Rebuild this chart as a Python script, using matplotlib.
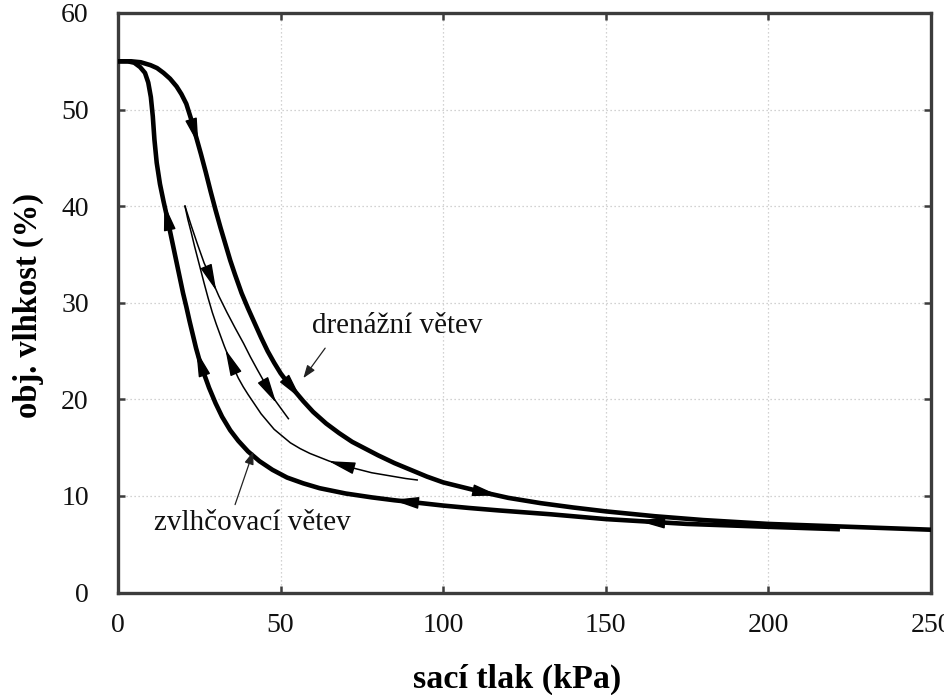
import numpy as np
import matplotlib
matplotlib.use('Agg')
import matplotlib.pyplot as plt

plt.rcParams['font.family'] = ['Liberation Serif', 'DejaVu Serif']

# ---------------- data ----------------
# main drying (drainage) branch
drain_x = [0, 4, 7, 10, 12, 14, 16, 18, 19.5, 21, 22.5, 24, 25.5, 27, 28.5, 30, 31.5,
           33, 34.5, 36, 38, 40, 42, 44, 46, 48, 50, 52, 54, 57, 60, 64, 68, 72, 76,
           80, 85, 90, 95, 100, 106, 112, 120, 130, 140, 150, 165, 180, 200, 225, 250]
drain_y = [55.0, 55.0, 54.9, 54.6, 54.3, 53.8, 53.2, 52.4, 51.6, 50.6, 49.0, 47.2,
           45.4, 43.5, 41.5, 39.6, 37.8, 36.1, 34.4, 32.9, 31.0, 29.4, 27.9, 26.4,
           25.0, 23.8, 22.7, 21.8, 21.0, 19.8, 18.7, 17.5, 16.5, 15.6, 14.9, 14.2,
           13.4, 12.7, 12.0, 11.4, 10.9, 10.4, 9.8, 9.25, 8.8, 8.4, 7.9, 7.5, 7.1,
           6.8, 6.5]

# main wetting branch
wet_x = [0, 3, 5, 6.8, 8.3, 9.3, 10.1, 10.7, 11.2, 11.9, 12.9, 14, 15, 16, 17, 18,
         19, 20, 21, 22, 23, 24, 25, 26.5, 28, 30, 32, 34.5, 37, 40, 43.5, 47.5, 52,
         57, 62, 70, 78, 85, 92, 100, 108, 117, 133, 150, 175, 200, 222]
wet_y = [55.0, 55.0, 54.85, 54.4, 53.8, 52.8, 51.3, 49.3, 46.9, 44.5, 42.3, 40.5,
         39.0, 37.4, 35.8, 34.2, 32.6, 31.0, 29.6, 28.1, 26.7, 25.3, 24.1, 22.6,
         21.2, 19.6, 18.2, 16.8, 15.7, 14.6, 13.6, 12.7, 11.9, 11.3, 10.8, 10.25,
         9.85, 9.55, 9.3, 9.0, 8.75, 8.5, 8.1, 7.6, 7.1, 6.8, 6.55]

# scanning drying curve
scan_drain_x = [20.6, 22.5, 24.5, 26.5, 28.8, 31, 33.5, 36, 38.6, 40.7, 42.8, 44.8,
                46.8, 48.3, 49.8, 51.1, 52.4]
scan_drain_y = [40.0, 38.0, 36.0, 34.1, 32.4, 30.7, 29.0, 27.4, 25.8, 24.4, 23.1,
                21.9, 20.7, 19.9, 19.2, 18.6, 18.0]

# scanning wetting curve
scan_wet_x = [20.6, 21.5, 22.5, 23.5, 24.5, 25.5, 26.5, 27.7, 29, 30.2, 31.5, 32.7,
              34, 35.5, 37, 38.5, 40, 42, 44, 46, 48, 50.5, 53, 56, 59, 62, 65, 68,
              71, 74.5, 78, 81.5, 85, 88.5, 92]
scan_wet_y = [40.0, 38.6, 37.3, 35.9, 34.6, 33.3, 32.0, 30.5, 29.0, 27.8, 26.6, 25.5,
              24.4, 23.3, 22.2, 21.3, 20.5, 19.5, 18.5, 17.7, 16.9, 16.2, 15.5, 14.9,
              14.4, 14.0, 13.6, 13.3, 13.0, 12.7, 12.4, 12.2, 12.0, 11.8, 11.65]

# arrow locations (x position along each curve)
drain_arrows = [23.7, 54.0, 113.5]
wet_arrows = [15.0, 25.2, 88.0, 163.7]
scan_drain_arrows = [28.8, 46.8]
scan_wet_arrows = [34.5, 68.3]

x_ticks = [0, 50, 100, 150, 200, 250]
y_ticks = [0, 10, 20, 30, 40, 50, 60]

label_drain = 'drenážní větev'
label_wet = 'zvlhčovací větev'
x_label = 'sací tlak (kPa)'
y_label = 'obj. vlhkost (%)'

# ---------------- figure ----------------
W, H = 944, 695
fig = plt.figure(figsize=(W / 100, H / 100), dpi=100)
L, R, T, B = 118, 931, 13, 592.5
ax = fig.add_axes([L / W, (H - B) / H, (R - L) / W, (B - T) / H])
ax.set_xlim(0, 250)
ax.set_ylim(0, 60)
ax.set_xticks(x_ticks)
ax.set_yticks(y_ticks)

frame_col = '#3c3c3c'
for s in ax.spines.values():
    s.set_color(frame_col)
    s.set_linewidth(2.4)
ax.tick_params(axis='both', direction='in', length=5, width=1.8, color=frame_col,
               top=True, right=True, labelsize=20, labelcolor='#111111')
ax.tick_params(axis='x', pad=15)
ax.tick_params(axis='y', pad=21)
ax.grid(True, color='#c4c4c4', linestyle=(0, (1, 2.2)), linewidth=0.9)
ax.set_axisbelow(True)

thick = 3.3
thin = 1.1
ax.plot(drain_x, drain_y, color='black', lw=thick, solid_joinstyle='round',
        solid_capstyle='butt', zorder=3)
ax.plot(wet_x, wet_y, color='black', lw=thick, solid_joinstyle='round',
        solid_capstyle='butt', zorder=3)
ax.plot(scan_drain_x, scan_drain_y, color='black', lw=thin, zorder=3)
ax.plot(scan_wet_x, scan_wet_y, color='black', lw=thin, zorder=3)


def place_arrow(xs, ys, xc, forward, length_px=24):
    xs = np.asarray(xs, float)
    ys = np.asarray(ys, float)
    P = ax.transData.transform(np.column_stack([xs, ys]))
    i = int(np.searchsorted(xs, xc))
    i = min(max(i, 1), len(xs) - 1)
    t = (xc - xs[i - 1]) / (xs[i] - xs[i - 1])
    c = P[i - 1] + t * (P[i] - P[i - 1])
    j0 = max(i - 2, 0)
    j1 = min(i + 1, len(xs) - 1)
    d = P[j1] - P[j0]
    d = d / np.hypot(*d)
    if not forward:
        d = -d
    tip = c + d * length_px / 2
    tail = c - d * length_px / 2
    inv = ax.transData.inverted()
    tip_d = inv.transform(tip)
    tail_d = inv.transform(tail)
    ax.annotate('', xy=tip_d, xytext=tail_d,
                arrowprops=dict(arrowstyle='-|>,head_length=0.75,head_width=0.17',
                                color='black', lw=1.0, shrinkA=0, shrinkB=0,
                                mutation_scale=22),
                zorder=4)


for xa in drain_arrows:
    place_arrow(drain_x, drain_y, xa, True)
for xa in wet_arrows:
    place_arrow(wet_x, wet_y, xa, False)
for xa in scan_drain_arrows:
    place_arrow(scan_drain_x, scan_drain_y, xa, True)
for xa in scan_wet_arrows:
    place_arrow(scan_wet_x, scan_wet_y, xa, False)

# text annotations
ax.text(85.8, 27.6, label_drain, fontsize=21, ha='center', va='center', color='#111111')
ax.annotate('', xy=(57.0, 22.2), xytext=(63.7, 25.3),
            arrowprops=dict(arrowstyle='-|>,head_length=0.55,head_width=0.2',
                            color='#222222', lw=0.9, shrinkA=0, shrinkB=0,
                            mutation_scale=14))
ax.text(41.4, 7.2, label_wet, fontsize=21, ha='center', va='center', color='#111111')
ax.annotate('', xy=(41.6, 14.6), xytext=(36.0, 9.1),
            arrowprops=dict(arrowstyle='-|>,head_length=0.55,head_width=0.2',
                            color='#222222', lw=0.9, shrinkA=0, shrinkB=0,
                            mutation_scale=14))

fig.text(517.5 / W, (H - 688) / H, x_label, fontsize=24.5, fontweight='bold',
         ha='center', va='baseline')
fig.text(28 / W, (H - 306) / H, y_label, fontsize=23.5, fontweight='bold',
         ha='center', va='center', rotation=90)

fig.savefig('out.png', dpi=100)
